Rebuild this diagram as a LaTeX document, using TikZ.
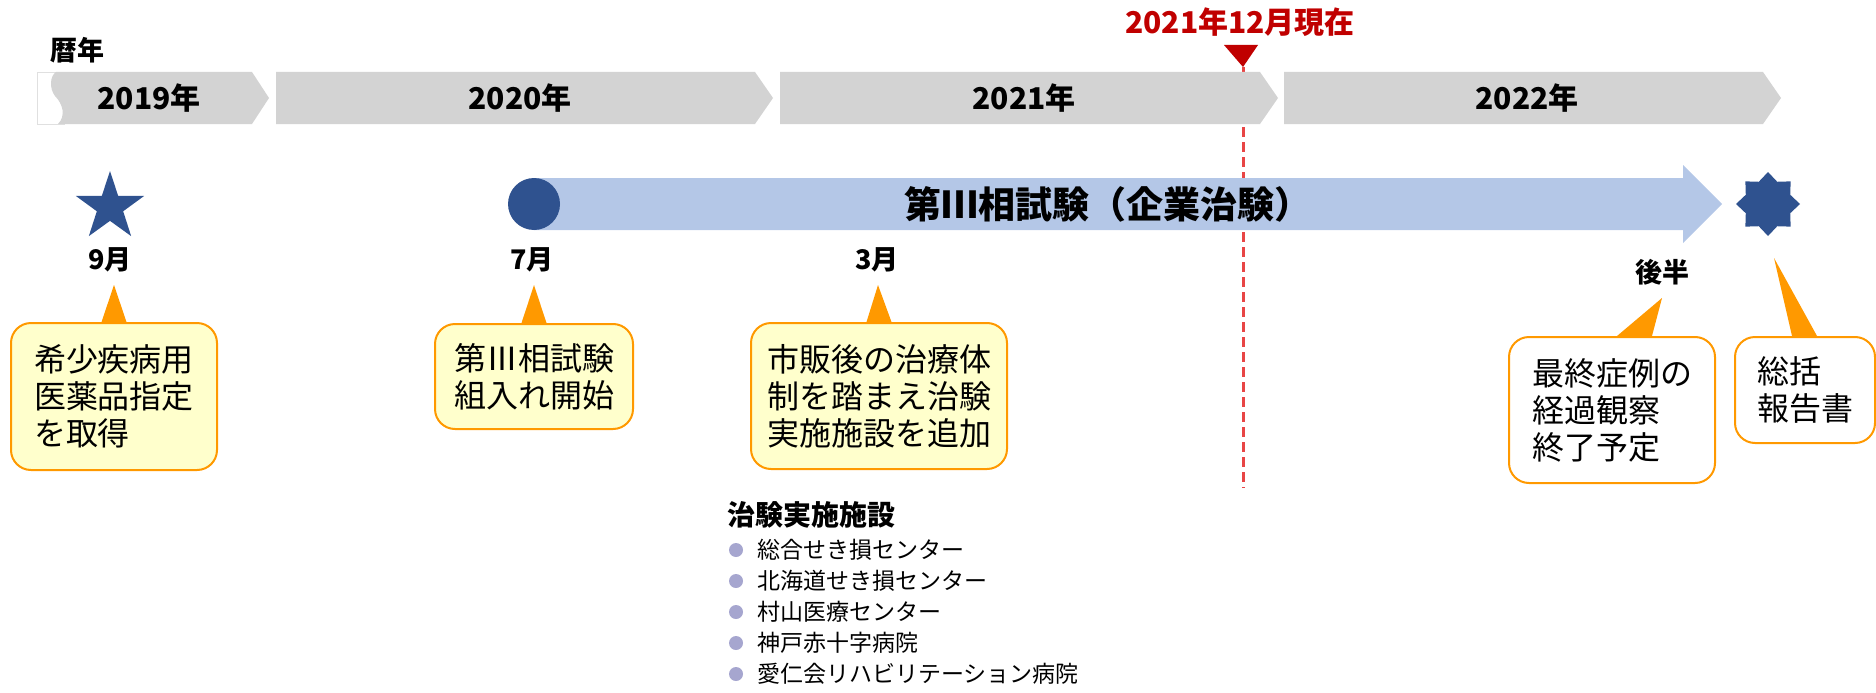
\documentclass[tikz,border=0pt]{standalone}
\usepackage{fontspec}
\setmainfont{Noto Sans CJK JP}
\usetikzlibrary{shapes.geometric}

\definecolor{bargray}{HTML}{D3D3D3}
\definecolor{bandblue}{HTML}{B4C7E7}
\definecolor{navy}{HTML}{2F528F}
\definecolor{nowred}{HTML}{C00000}
\definecolor{dashred}{HTML}{E84545}
\definecolor{boxorange}{HTML}{FF9900}
\definecolor{boxyellow}{HTML}{FFFFCC}
\definecolor{dotgray}{HTML}{A6A6CF}

\begin{document}
\begin{tikzpicture}[x=1pt, y=-1pt, every node/.style={inner sep=0pt},
    yeartext/.style={font=\fontsize{30}{36}\selectfont\bfseries},
    month/.style={font=\fontsize{27}{32}\selectfont\bfseries},
    callout/.style={draw=boxorange, line width=2pt, rounded corners=20pt, fill=boxyellow, align=left, font=\fontsize{32}{37}\selectfont},
    item/.style={anchor=west, font=\fontsize{23}{28}\selectfont},
    dot/.style={circle, fill=dotgray, minimum size=14pt}]

    \useasboundingbox (0,0) rectangle (1876,693);

    \coordinate (nowtop) at (1243,67);
    \coordinate (nowend) at (1243,488);
    \draw[dashred, line width=3pt, dash pattern=on 10pt off 5pt] (nowtop) -- (nowend);

    \node[month] (reki) at (77,50) {暦年};

    \draw[black!12, line width=0.6pt, fill=white] (37,72) rectangle (64,124);
    \fill[bargray] (56,72) -- (252,72) -- (269,98) -- (252,124) -- (58,124)
        .. controls (66,116) and (63,104) .. (55,96)
        .. controls (49,88) and (50,76) .. (56,72) -- cycle;
    \fill[bargray] (276,72) -- (755,72) -- (773,98) -- (755,124) -- (276,124) -- cycle;
    \fill[bargray] (780,72) -- (1260,72) -- (1278,98) -- (1260,124) -- (780,124) -- cycle;
    \fill[bargray] (1284,72) -- (1763,72) -- (1781,98) -- (1763,124) -- (1284,124) -- cycle;

    \node[yeartext] (y2019) at (149,98) {2019年};
    \node[yeartext] (y2020) at (520,98) {2020年};
    \node[yeartext] (y2021) at (1024,98) {2021年};
    \node[yeartext] (y2022) at (1527,98) {2022年};

    \node[font=\fontsize{30}{36}\selectfont\bfseries, text=nowred] (now) at (1240,22) {2021年12月現在};
    \fill[nowred] (1224,45) -- (1258,45) -- (nowtop) -- cycle;

    \fill[bandblue] (534,178) -- (1683,178) -- (1683,165) -- (1722,204)
        -- (1683,243) -- (1683,230) -- (534,230) -- cycle;
    \node[circle, fill=navy, minimum size=52pt] (start) at (534,204) {};
    \node[font=\fontsize{37}{40}\selectfont\bfseries] (trial) at (1108,204) {第Ⅲ相試験（企業治験）};

    \node[star, star points=5, star point ratio=2.6, fill=navy, minimum size=72pt] (orphan) at (110,207) {};
    \node[star, star points=8, star point ratio=1.33, fill=navy, minimum size=64pt] (report) at (1768,204) {};

    \node[month] (m1) at (110,260) {9月};
    \node[month] (m2) at (532,260) {7月};
    \node[month] (m3) at (877,260) {3月};
    \node[month] (m4) at (1662,272) {後半};

    \node[callout, minimum width=206pt, minimum height=147pt] (b1) at (114,396.5) {希少疾病用\\医薬品指定\\を取得};
    \node[callout, minimum width=198pt, minimum height=105pt] (b2) at (534,376.5) {第Ⅲ相試験\\組入れ開始};
    \node[callout, minimum width=256pt, minimum height=146pt] (b3) at (879,396) {市販後の治療体\\制を踏まえ治験\\実施施設を追加};
    \node[callout, fill=white, minimum width=206pt, minimum height=146pt] (b4) at (1612,410) {最終症例の\\経過観察\\終了予定};
    \node[callout, fill=white, minimum width=140pt, minimum height=106pt] (b5) at (1805,390) {総括\\報告書};

    \coordinate (t1) at (114,285);
    \coordinate (t2) at (534,285);
    \coordinate (t3) at (878,285);
    \coordinate (t4) at (1662,298);
    \coordinate (t5) at (1774,258);
    \fill[boxorange] (t1) -- ([xshift=-12.5pt]b1.north) -- ([xshift=12.5pt]b1.north) -- cycle;
    \fill[boxorange] (t2) -- ([xshift=-12.5pt]b2.north) -- ([xshift=12.5pt]b2.north) -- cycle;
    \fill[boxorange] (t3) -- ([xshift=-12.5pt]b3.north) -- ([xshift=12.5pt]b3.north) -- cycle;
    \fill[boxorange] (t4) -- ([xshift=5pt]b4.north) -- ([xshift=40pt]b4.north) -- cycle;
    \fill[boxorange] (t5) -- ([xshift=-13pt]b5.north) -- ([xshift=12pt]b5.north) -- cycle;

    \node[anchor=west, font=\fontsize{28}{32}\selectfont\bfseries] (sites) at (727,515) {治験実施施設};
    \node[dot] (d1) at (736,550) {};
    \node[dot] (d2) at (736,581) {};
    \node[dot] (d3) at (736,612) {};
    \node[dot] (d4) at (736,643) {};
    \node[dot] (d5) at (736,674) {};
    \node[item] (s1) at (757,550) {総合せき損センター};
    \node[item] (s2) at (757,581) {北海道せき損センター};
    \node[item] (s3) at (757,612) {村山医療センター};
    \node[item] (s4) at (757,643) {神戸赤十字病院};
    \node[item] (s5) at (757,674) {愛仁会リハビリテーション病院};

\end{tikzpicture}
\end{document}
